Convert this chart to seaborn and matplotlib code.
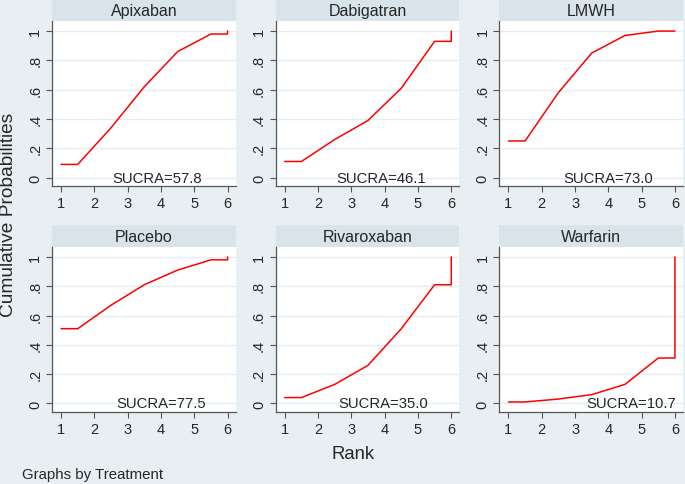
import numpy as np
import pandas as pd
import matplotlib
matplotlib.use("Agg")
import matplotlib.pyplot as plt
import seaborn as sns
from matplotlib.patches import Rectangle

# cumulative ranking probabilities at ranks 1..5 (rank 6 is always 1)
treatments = ["Apixaban", "Dabigatran", "LMWH", "Placebo", "Rivaroxaban", "Warfarin"]
apixaban = [0.09, 0.34, 0.62, 0.86, 0.98]
dabigatran = [0.11, 0.26, 0.39, 0.61, 0.93]
lmwh = [0.25, 0.58, 0.85, 0.97, 1.00]
placebo = [0.51, 0.67, 0.81, 0.91, 0.98]
rivaroxaban = [0.04, 0.13, 0.26, 0.51, 0.81]
warfarin = [0.01, 0.03, 0.06, 0.13, 0.31]
sucra = [57.8, 46.1, 73.0, 77.5, 35.0, 10.7]
yticks = [0, 0.2, 0.4, 0.6, 0.8, 1]
ytick_labels = ["0", ".2", ".4", ".6", ".8", "1"]

# where the SUCRA label sits on the rank axis
label_x = [3.9, 3.9, 4.0, 4.0, 3.95, 4.7]

BG = "#e8eff2"
STRIP = "#d8e4ea"
GRID = "#e6edf0"
AXC = "#555555"


def build_paths():
    rows = []
    series = [apixaban, dabigatran, lmwh, placebo, rivaroxaban, warfarin]
    for name, cum in zip(treatments, series):
        # stata-style sucra curve: flat start, midpoints, flat end, jump to 1
        xs = [1.0] + [r + 0.5 for r in range(1, 6)] + [6.0, 6.0]
        ys = [cum[0]] + list(cum) + [cum[-1], 1.0]
        for i, (x, y) in enumerate(zip(xs, ys)):
            rows.append({"Treatment": name, "Rank": x, "p": y, "order": i})
    return pd.DataFrame(rows)


df = build_paths()

sns.set_style("white")
plt.rcParams["font.family"] = ["Liberation Sans", "DejaVu Sans"]

g = sns.relplot(
    data=df, x="Rank", y="p", col="Treatment", col_wrap=3,
    kind="line", sort=False, estimator=None, color="red", linewidth=1.1,
    height=2, aspect=1, facet_kws={"sharex": True, "sharey": True},
)
fig = g.figure
fig.set_size_inches(6.85, 4.85)
fig.set_dpi(100)
fig.patch.set_facecolor(BG)
fig.subplots_adjust(left=0.076, right=0.997, top=0.955, bottom=0.148,
                    wspace=0.219, hspace=0.364)

for ax, name, s, lx in zip(g.axes.flat, treatments, sucra, label_x):
    ax.set_facecolor("white")
    ax.set_xlim(0.73, 6.24)
    ax.set_ylim(-0.06, 1.07)
    ax.set_xticks([1, 2, 3, 4, 5, 6])
    ax.set_yticks(yticks)
    ax.set_yticklabels(ytick_labels, rotation=90, va="center")
    ax.tick_params(axis="both", labelsize=10.5, length=4, width=0.8,
                   color=AXC, direction="out", left=True, bottom=True,
                   labelleft=True, labelbottom=True, pad=3)
    ax.yaxis.grid(True, color=GRID, linewidth=1)
    ax.set_axisbelow(True)
    for sp in ["top", "right"]:
        ax.spines[sp].set_visible(False)
    for sp in ["left", "bottom"]:
        ax.spines[sp].set_color(AXC)
        ax.spines[sp].set_linewidth(0.9)
    ax.set_xlabel("")
    ax.set_ylabel("")
    ax.set_title("")
    # header strip
    ax.add_patch(Rectangle((0, 1.0), 1.0, 0.128, transform=ax.transAxes,
                           facecolor=STRIP, edgecolor="none", clip_on=False))
    ax.text(0.5, 1.064, name, transform=ax.transAxes, ha="center",
            va="center", fontsize=11.5)
    ax.text(lx, 0.0, f"SUCRA={s:.1f}", ha="center", va="center",
            fontsize=10.7)

fig.text(0.013, 0.557, "Cumulative Probabilities", rotation=90,
         ha="center", va="center", fontsize=13.8)
fig.text(0.516, 0.062, "Rank", ha="center", va="center", fontsize=13.3)
fig.text(0.032, 0.02, "Graphs by Treatment", ha="left", va="center",
         fontsize=10.8)

fig.savefig("out.png", dpi=100, facecolor=BG)
